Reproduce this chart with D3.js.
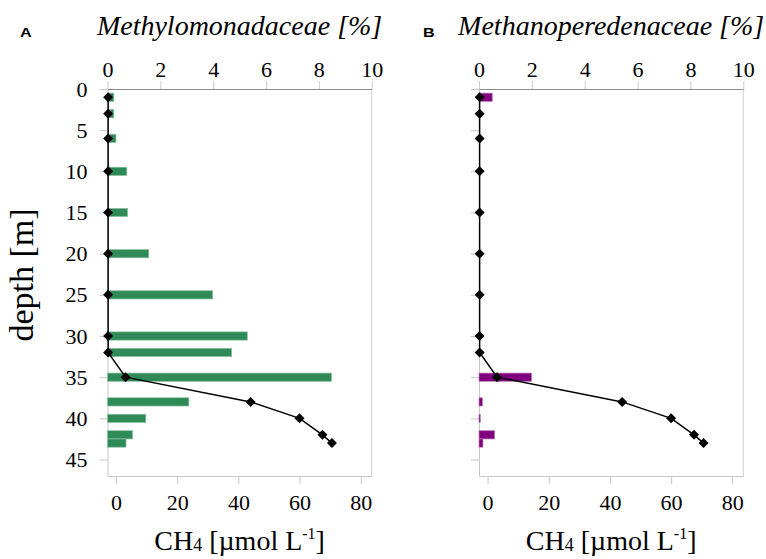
<!DOCTYPE html>
<html>
<head>
<meta charset="utf-8">
<script src="https://cdn.jsdelivr.net/npm/d3@7"></script>
<style>
  body { margin: 0; background: #fff; }
  svg { display: block; }
</style>
</head>
<body>
<div id="chart"></div>
<script>
// Sampling depths [m] and measured profiles
const depths = [1, 3, 6, 10, 15, 20, 25, 30, 32, 35, 38, 40, 42, 43];
const ch4 = [-2.6, -2.6, -2.6, -2.6, -2.6, -2.6, -2.6, -2.6, -2.6, 3.1, 44, 60, 67.5, 70.6];
const methylomonadaceae = [0.24, 0.24, 0.32, 0.73, 0.76, 1.56, 3.98, 5.29, 4.70, 8.48, 3.08, 1.45, 0.95, 0.70];
const methanoperedenaceae = [0.5, 0, 0, 0, 0, 0, 0, 0, 0, 1.99, 0.13, 0.05, 0.59, 0.15];

// Tick labels
const pctTicks = [0, 2, 4, 6, 8, 10];
const ch4Ticks = [0, 20, 40, 60, 80];
const depthTicks = [0, 5, 10, 15, 20, 25, 30, 35, 40, 45];

const width = 766, height = 559;
const serif = '"Liberation Serif", "Times New Roman", serif';

const svg = d3.select('#chart')
    .append('svg')
    .attr('width', width)
    .attr('height', height)
    .attr('viewBox', [0, 0, width, height]);

// shared depth scale
const y = d3.scaleLinear().domain([0, 47]).range([89, 476]);
const barH = y(1) - y(0);

const panels = [
    {label: 'A', lx: 20, x0: 107.5, x1: 371.7, title: 'Methylomonadaceae [%]', values: methylomonadaceae, color: '#2e8b57', stroke: '#8dbf9f', depthLabels: true},
    {label: 'B', lx: 423, x0: 479, x1: 743.3, title: 'Methanoperedenaceae [%]', values: methanoperedenaceae, color: '#800080', stroke: '#b77fb7', depthLabels: false}
];

function styleAxis(g, domainColor, tickColor) {
    g.select('.domain').attr('stroke', domainColor);
    g.selectAll('.tick line').attr('stroke', tickColor);
    g.selectAll('.tick text')
        .attr('fill', '#000')
        .style('font-family', serif)
        .style('font-size', '22px');
}

panels.forEach(p => {
    const pct = d3.scaleLinear().domain([0, 10]).range([p.x0, p.x1]);
    const cx = d3.scaleLinear().domain([-2.8, 83.6]).range([p.x0, p.x1]);
    const g = svg.append('g');

    // right frame
    g.append('line')
        .attr('x1', p.x1).attr('x2', p.x1)
        .attr('y1', y(0)).attr('y2', y(47))
        .attr('stroke', '#cfcfcf');

    // bottom axis (CH4)
    g.append('g')
        .attr('transform', `translate(0,${y(47)})`)
        .call(d3.axisBottom(cx).tickValues(ch4Ticks).tickSize(8).tickSizeOuter(0).tickPadding(10))
        .call(a => styleAxis(a, '#c8c8c8', '#c8c8c8'));

    // left axis (depth)
    g.append('g')
        .attr('transform', `translate(${p.x0},0)`)
        .call(d3.axisLeft(y).tickValues(depthTicks).tickSize(8).tickSizeOuter(0).tickPadding(12)
            .tickFormat(p.depthLabels ? d3.format('d') : ''))
        .call(a => styleAxis(a, '#c8c8c8', '#c8c8c8'));

    // top axis (%)
    g.append('g')
        .attr('transform', `translate(0,${y(0)})`)
        .call(d3.axisTop(pct).tickValues(pctTicks).tickSize(8).tickSizeOuter(0).tickPadding(4))
        .call(a => styleAxis(a, '#8c8c8c', '#cccccc'));

    // bars
    g.selectAll('.bar')
        .data(depths.map((d, i) => ({depth: d, value: p.values[i]})).filter(d => d.value > 0))
        .join('rect')
        .attr('class', 'bar')
        .attr('x', pct(0))
        .attr('y', d => y(d.depth) - barH / 2)
        .attr('width', d => pct(d.value) - pct(0))
        .attr('height', barH)
        .attr('fill', p.color)
        .attr('stroke', p.stroke)
        .attr('stroke-width', 0.7);

    // CH4 profile
    const pts = depths.map((d, i) => ({depth: d, value: ch4[i]}));
    const line = d3.line()
        .x(d => cx(d.value))
        .y(d => y(d.depth));

    g.append('path')
        .datum(pts)
        .attr('fill', 'none')
        .attr('stroke', '#000')
        .attr('stroke-width', 1.5)
        .attr('d', line);

    g.selectAll('.marker')
        .data(pts)
        .join('path')
        .attr('class', 'marker')
        .attr('d', d3.symbol(d3.symbolSquare, 50))
        .attr('transform', d => `translate(${cx(d.value)},${y(d.depth)}) rotate(45)`)
        .attr('fill', '#000');

    // panel titles
    g.append('text')
        .attr('x', (p.x0 + p.x1) / 2)
        .attr('y', 35)
        .attr('text-anchor', 'middle')
        .style('font-family', serif)
        .style('font-style', 'italic')
        .style('font-size', '28px')
        .text(p.title);

    // panel letter (wide bold sans)
    g.append('text')
        .attr('transform', `translate(${p.lx},36.5) scale(1.3,1)`)
        .style('font-family', '"Liberation Sans", Arial, sans-serif')
        .style('font-weight', 'bold')
        .style('font-size', '12.5px')
        .text(p.label);

    // CH4 axis title
    const t = g.append('text')
        .attr('x', (p.x0 + p.x1) / 2)
        .attr('y', 550)
        .attr('text-anchor', 'middle')
        .style('font-family', serif)
        .style('font-size', '28px');
    t.append('tspan').text('CH');
    t.append('tspan').attr('dy', 1).style('font-size', '18px').text('4');
    t.append('tspan').attr('dy', -1).text(' [µmol L');
    t.append('tspan').attr('dy', -11).style('font-size', '16px').text('-1');
    t.append('tspan').attr('dy', 11).text(']');
});

// depth label
svg.append('text')
    .attr('transform', 'translate(33,275) rotate(-90)')
    .attr('text-anchor', 'middle')
    .style('font-family', serif)
    .style('font-size', '34px')
    .text('depth [m]');
</script>
</body>
</html>
